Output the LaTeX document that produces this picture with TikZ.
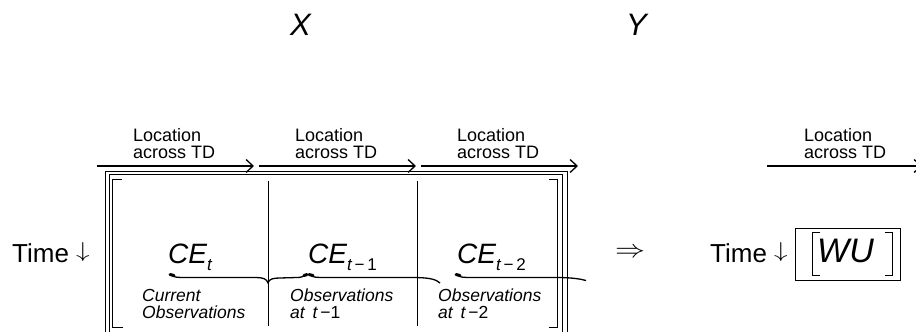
\documentclass[tikz,border=0pt]{standalone}
\usepackage{fontspec}
\setmainfont{Liberation Sans}
\usetikzlibrary{arrows.meta}

\begin{document}
\begin{tikzpicture}[x=1pt,y=-1pt,
  axisarrow/.style={line width=1.3pt,-{Straight Barb[length=7pt,width=13pt,line width=1.3pt]}},
  frameline/.style={line width=0.9pt},
  brktline/.style={line width=0.9pt},
  bracecurve/.style={line width=1.3pt},
  bracetip/.style={line width=3pt,line cap=round},
  loclabel/.style={inner sep=0pt,anchor=north west,align=left,font=\fontsize{18}{17}\selectfont},
  obslabel/.style={inner sep=0pt,anchor=north west,align=left,font=\fontsize{17.5}{17}\selectfont\itshape},
  celabel/.style={inner sep=0pt,anchor=base west,font=\fontsize{28}{28}\selectfont\itshape},
  bigtext/.style={inner sep=0pt,anchor=base west,font=\fontsize{26}{26}\selectfont},
  varname/.style={inner sep=0pt,anchor=base west,font=\fontsize{31}{31}\selectfont\itshape}
]
\newcommand{\subidx}[1]{{\fontsize{17}{17}\selectfont\raisebox{-7pt}{#1}}}
\newcommand{\downarr}{{\fontsize{10}{10}\selectfont\raisebox{4.2pt}{\scalebox{2.7}[2.15]{$\downarrow$}}}}
\useasboundingbox (0,0) rectangle (916,332);

% variable names
\node[varname] (xname) at (290,35) {X};
\node[varname] (yname) at (626,35) {Y};

% location axes above the columns
\coordinate (a1s) at (97,166);  \coordinate (a1e) at (254,166);
\coordinate (a2s) at (259,166); \coordinate (a2e) at (416,166);
\coordinate (a3s) at (421,166); \coordinate (a3e) at (578,166);
\coordinate (a4s) at (767,166); \coordinate (a4e) at (922,166);
\draw[axisarrow] (a1s) -- (a1e);
\draw[axisarrow] (a2s) -- (a2e);
\draw[axisarrow] (a3s) -- (a3e);
\draw[axisarrow] (a4s) -- (a4e);
\node[loclabel] (loc1) at (133,128) {Location\\across TD};
\node[loclabel] (loc2) at (295,128) {Location\\across TD};
\node[loclabel] (loc3) at (457,128) {Location\\across TD};
\node[loclabel] (loc4) at (804,128) {Location\\across TD};

% double frame around the block matrix (open at the bottom)
\draw[frameline] (105,345) -- (105,171) -- (567,171) -- (567,345);
\draw[frameline] (109.5,345) -- (109.5,174) -- (562,174) -- (562,345);

% matrix brackets
\draw[brktline] (122,179.5) -- (112.5,179.5) -- (112.5,327.5) -- (123,327.5);
\draw[brktline] (549,179.5) -- (557.5,179.5) -- (557.5,327.5) -- (549,327.5);

% column dividers
\draw[brktline] (268,181) -- (268,326);
\draw[brktline] (417,181) -- (417,326);

% block entries
\node[celabel] (ce0) at (168,263) {CE\subidx{t}};
\node[celabel] (ce1) at (308,263) {CE\subidx{t\,\upshape−\,1}};
\node[celabel] (ce2) at (457,263) {CE\subidx{t\,\upshape−\,2}};

% braces under the entries
\draw[bracetip] (170,274.5) -- (174,275.5);
\draw[bracecurve] (171,275) .. controls (174,277.5) and (178,277.5) .. (186,277.5)
  -- (256,277.5) .. controls (263,277.5) and (267,279) .. (268,283)
  .. controls (269,279) and (273,278) .. (280,278)
  -- (297,277.5) .. controls (301,277.5) and (303,276.5) .. (306,275);
\draw[bracetip] (304,275.5) -- (307,274.5);
\draw[bracetip] (309,274.5) -- (313,275.5);
\draw[bracecurve] (310,275) .. controls (313,277.5) and (317,277.5) .. (325,277.5)
  -- (412,277.5) .. controls (428,277.5) and (436,279) .. (440,283);
\draw[bracetip] (456,274.5) -- (460,275.5);
\draw[bracecurve] (457,275) .. controls (460,277.5) and (464,277.5) .. (472,277.5)
  -- (560,277.5) .. controls (572,277.8) and (580,278.8) .. (586,280.5);

% captions of the blocks
\node[obslabel] (cap0) at (142,289) {Current\\Observations};
\node[obslabel] (cap1) at (290,289) {Observations\\at \,\textit{t}\,\upshape−1};
\node[obslabel] (cap2) at (438,289) {Observations\\at \,\textit{t}\,\upshape−2};

% time labels
\node[bigtext] (time1) at (12,262) {Time \downarr};
\node[bigtext] (time2) at (710,262) {Time \downarr};

% implication sign
\node[inner sep=0pt,anchor=base west] (impl) at (615,257) {\scalebox{3}[2.5]{$\Rightarrow$}};

% response vector
\draw[frameline] (795,228) rectangle (900,280);
\draw[line width=1.6pt] (820,232.5) -- (812.5,232.5) -- (812.5,275.5) -- (820,275.5);
\draw[line width=1.6pt] (885,232.5) -- (892.5,232.5) -- (892.5,275.5) -- (885,275.5);
\node[inner sep=0pt,anchor=base west,font=\fontsize{34}{34}\selectfont\itshape] (wu) at (817,262) {WU};
\end{tikzpicture}
\end{document}
